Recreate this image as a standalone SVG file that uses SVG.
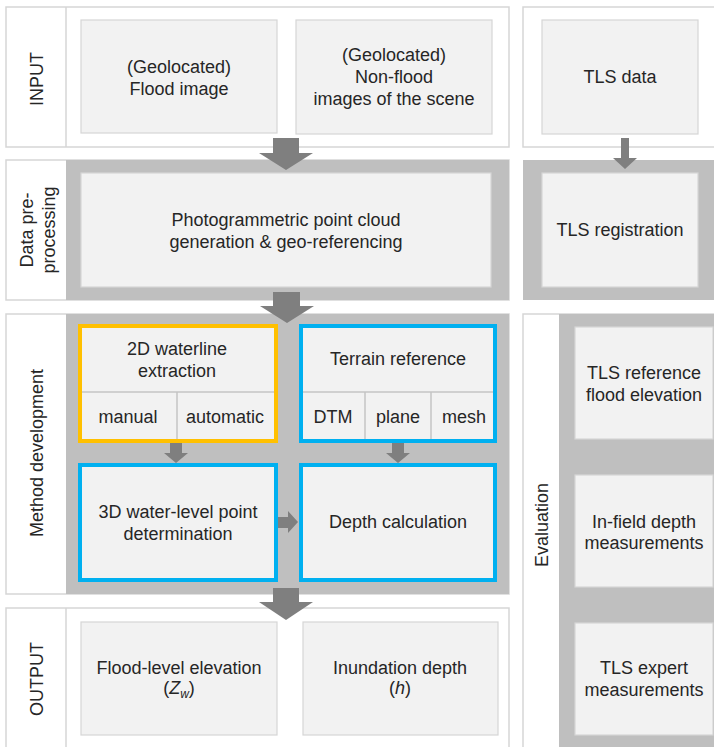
<svg xmlns="http://www.w3.org/2000/svg" width="714" height="747" viewBox="0 0 714 747">
<style>
text{font-family:"Liberation Sans",Arial,sans-serif;font-size:18px;fill:#262626;text-anchor:middle}
.panel{fill:#ffffff;stroke:#d6d6d6;stroke-width:1.5}
.gray{fill:#bfbfbf}
.box{fill:#f2f2f2;stroke:#d6d6d6;stroke-width:1.2}
.obox{fill:#f2f2f2;stroke:#ffc000;stroke-width:4}
.bbox{fill:#f2f2f2;stroke:#00b0f0;stroke-width:4}
.div{stroke:#c4c4c4;stroke-width:1.5;fill:none}
.arr{fill:#7f7f7f}
</style>
<rect width="714" height="747" fill="#ffffff"/>
<g id="panels">
<rect class="panel" x="6" y="7" width="503" height="140"/>
<line class="panel" x1="66" y1="7" x2="66" y2="147"/>
<rect class="panel" x="523" y="7" width="200" height="140"/>
<rect class="panel" x="6" y="160" width="503" height="140"/>
<rect class="gray" x="66" y="160" width="443" height="140"/>
<rect class="gray" x="523" y="160" width="200" height="140"/>
<rect class="panel" x="6" y="314" width="503" height="280"/>
<rect class="gray" x="66" y="314" width="443" height="280"/>
<rect class="panel" x="6" y="608" width="503" height="150"/>
<line class="panel" x1="66" y1="608" x2="66" y2="747"/>
<rect class="panel" x="523" y="314" width="200" height="450"/>
<rect class="gray" x="559" y="314" width="160" height="440"/>
</g>
<g id="lane-labels">
<text transform="translate(43,79) rotate(-90)">INPUT</text>
<text transform="translate(33,230) rotate(-90)">Data pre-</text>
<text transform="translate(55,230) rotate(-90)">processing</text>
<text transform="translate(43,453) rotate(-90)">Method development</text>
<text transform="translate(43,679) rotate(-90)">OUTPUT</text>
<text transform="translate(548,525) rotate(-90)">Evaluation</text>
</g>
<g id="flood-image">
<rect class="box" x="81" y="20" width="196" height="113"/>
<text x="179" y="73">(Geolocated)</text>
<text x="179" y="95">Flood image</text>
</g>
<g id="non-flood-images">
<rect class="box" x="296" y="20" width="196" height="114"/>
<text x="394" y="61">(Geolocated)</text>
<text x="394" y="83">Non-flood</text>
<text x="394" y="105">images of the scene</text>
</g>
<g id="tls-data">
<rect class="box" x="542" y="20" width="156" height="114"/>
<text x="620" y="83">TLS data</text>
</g>
<g id="photogrammetric">
<rect class="box" x="81" y="173" width="410" height="114"/>
<text x="286" y="226">Photogrammetric point cloud</text>
<text x="286" y="248">generation &amp; geo-referencing</text>
</g>
<g id="tls-registration">
<rect class="box" x="542" y="173" width="156" height="114"/>
<text x="620" y="236">TLS registration</text>
</g>
<g id="waterline-2d">
<rect class="obox" x="80" y="326" width="196" height="115"/>
<line class="div" x1="82" y1="392" x2="274" y2="392"/>
<line class="div" x1="177" y1="392" x2="177" y2="439"/>
<text x="177" y="355">2D waterline</text>
<text x="177" y="377">extraction</text>
<text x="128" y="423">manual</text>
<text x="225" y="423">automatic</text>
</g>
<g id="terrain-reference">
<rect class="bbox" x="301" y="326" width="194" height="115"/>
<line class="div" x1="303" y1="392" x2="493" y2="392"/>
<line class="div" x1="365" y1="392" x2="365" y2="439"/>
<line class="div" x1="431" y1="392" x2="431" y2="439"/>
<text x="398" y="365">Terrain reference</text>
<text x="333" y="423">DTM</text>
<text x="398" y="423">plane</text>
<text x="464" y="423">mesh</text>
</g>
<g id="water-level-3d">
<rect class="bbox" x="80" y="465" width="196" height="115"/>
<text x="178" y="518">3D water-level point</text>
<text x="178" y="540">determination</text>
</g>
<g id="depth-calculation">
<rect class="bbox" x="301" y="465" width="194" height="115"/>
<text x="398" y="528">Depth calculation</text>
</g>
<g id="flood-level-elevation">
<rect class="box" x="81" y="622" width="196" height="113"/>
<text x="179" y="674">Flood-level elevation</text>
<text x="179" y="694">(<tspan font-style="italic">Z</tspan><tspan font-style="italic" font-size="12" dy="4">w</tspan><tspan dy="-4">)</tspan></text>
</g>
<g id="inundation-depth">
<rect class="box" x="303" y="622" width="195" height="113"/>
<text x="400" y="674">Inundation depth</text>
<text x="400" y="694">(<tspan font-style="italic">h</tspan>)</text>
</g>
<g id="tls-reference">
<rect class="box" x="575" y="327" width="138" height="112"/>
<text x="644" y="379">TLS reference</text>
<text x="644" y="401">flood elevation</text>
</g>
<g id="in-field-depth">
<rect class="box" x="575" y="475" width="138" height="112"/>
<text x="644" y="528">In-field depth</text>
<text x="644" y="549">measurements</text>
</g>
<g id="tls-expert">
<rect class="box" x="575" y="623" width="138" height="112"/>
<text x="644" y="674">TLS expert</text>
<text x="644" y="696">measurements</text>
</g>
<g id="connectors">
<polygon class="arr" points="273,138 299,138 299,153 313,153 286,170 259,153 273,153"/>
<polygon class="arr" points="621,138 629,138 629,158 637,158 625,169 613,158 621,158"/>
<polygon class="arr" points="273,292 300,292 300,306 314,306 287,323 260,306 273,306"/>
<polygon class="arr" points="170,443 182,443 182,453 188,453 176,463 164,453 170,453"/>
<polygon class="arr" points="392,443 404,443 404,453 410,453 398,463 386,453 392,453"/>
<polygon class="arr" points="278,517 288,517 288,511 298,522 288,533 288,528 278,528"/>
<polygon class="arr" points="273,588 299,588 299,602 313,602 286,620 259,602 273,602"/>
</g>
</svg>
